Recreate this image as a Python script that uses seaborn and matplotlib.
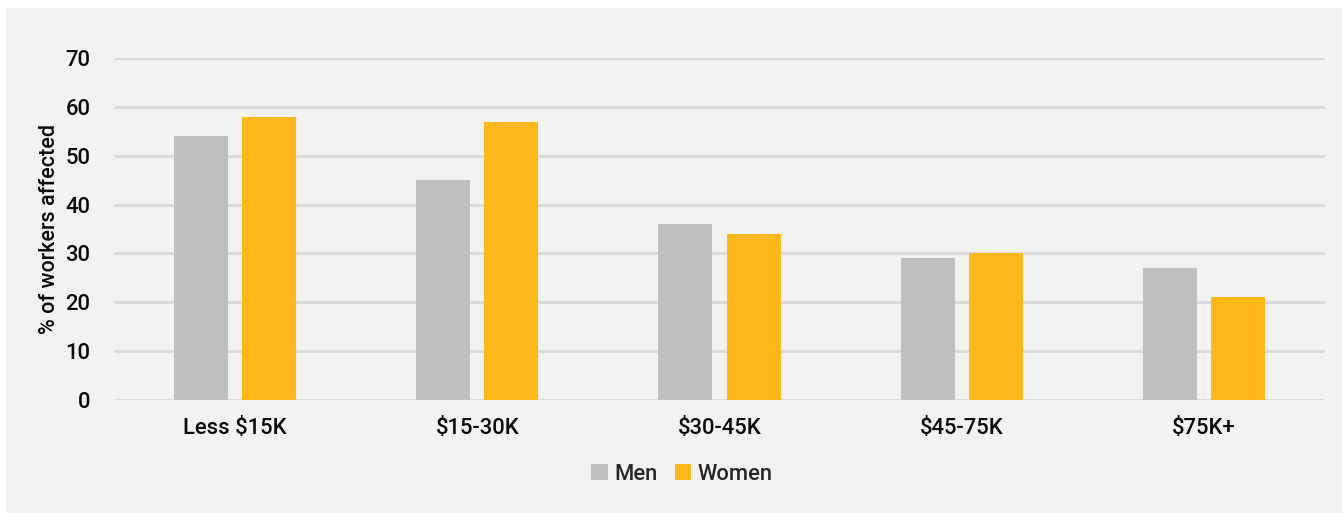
import matplotlib
matplotlib.use("Agg")
import matplotlib.pyplot as plt
from matplotlib.patches import Rectangle
import seaborn as sns
import pandas as pd

# Share of workers affected, by income band and gender
categories = ["Less $15K", "$15-30K", "$30-45K", "$45-75K", "$75K+"]
men = [54, 45, 36, 29, 27]
women = [58, 57, 34, 30, 21]
groups = ["Men", "Women"]
colors = ["#bfbfbf", "#ffb81c"]
y_ticks = [0, 10, 20, 30, 40, 50, 60, 70]

df = pd.DataFrame({
    "income": categories * 2,
    "group": [groups[0]] * len(categories) + [groups[1]] * len(categories),
    "value": men + women,
})

sns.set_theme(style="white")
plt.rcParams["font.family"] = ["Roboto", "DejaVu Sans"]
plt.rcParams["font.weight"] = "medium"

W, H = 1342, 513
fig = plt.figure(figsize=(W / 100, H / 100), dpi=100)
fig.patch.set_facecolor("white")
panel_bg = "#f2f2f0"
fig.patches.append(Rectangle((6 / W, 0), 1 - 6 / W, (H - 8) / H,
                             transform=fig.transFigure, facecolor=panel_bg,
                             edgecolor="none", zorder=-10))

ax = fig.add_axes([114 / W, (H - 400) / H, (1325 - 114) / W, (400 - 58) / H])
ax.set_facecolor(panel_bg)
ax.patch.set_alpha(0)

sns.barplot(data=df, x="income", y="value", hue="group", palette=colors,
            width=0.5616, gap=0.206, linewidth=0, saturation=1,
            errorbar=None, ax=ax, zorder=3)

ax.set_ylim(0, 70)
ax.set_yticks(y_ticks)
ax.set_xlim(-0.5, len(categories) - 0.5)
ax.yaxis.grid(True, color="#d9d9d9", linewidth=2)
ax.set_axisbelow(True)
for s in ax.spines.values():
    s.set_visible(False)
ax.tick_params(axis="both", length=0, labelsize=15.8, colors="#0a0a0a")
for lbl in ax.get_xticklabels() + ax.get_yticklabels():
    lbl.set_fontweight("medium")
ax.tick_params(axis="y", pad=17)
ax.tick_params(axis="x", pad=13)
ax.set_xlabel("")
ax.set_ylabel("% of workers affected", fontsize=15.5, fontweight="medium",
              color="#0a0a0a", labelpad=4)

leg = ax.get_legend()
if leg is not None:
    leg.remove()
handles, labels = ax.get_legend_handles_labels()
fig.legend(handles, labels, loc="center", bbox_to_anchor=(682 / W, (H - 474) / H),
           ncol=2, frameon=False, handlelength=0.75, handleheight=0.75,
           handletextpad=0.3, columnspacing=0.8,
           prop={"size": 15.8, "weight": "medium"})

fig.savefig("out.png", dpi=100, facecolor="white")
